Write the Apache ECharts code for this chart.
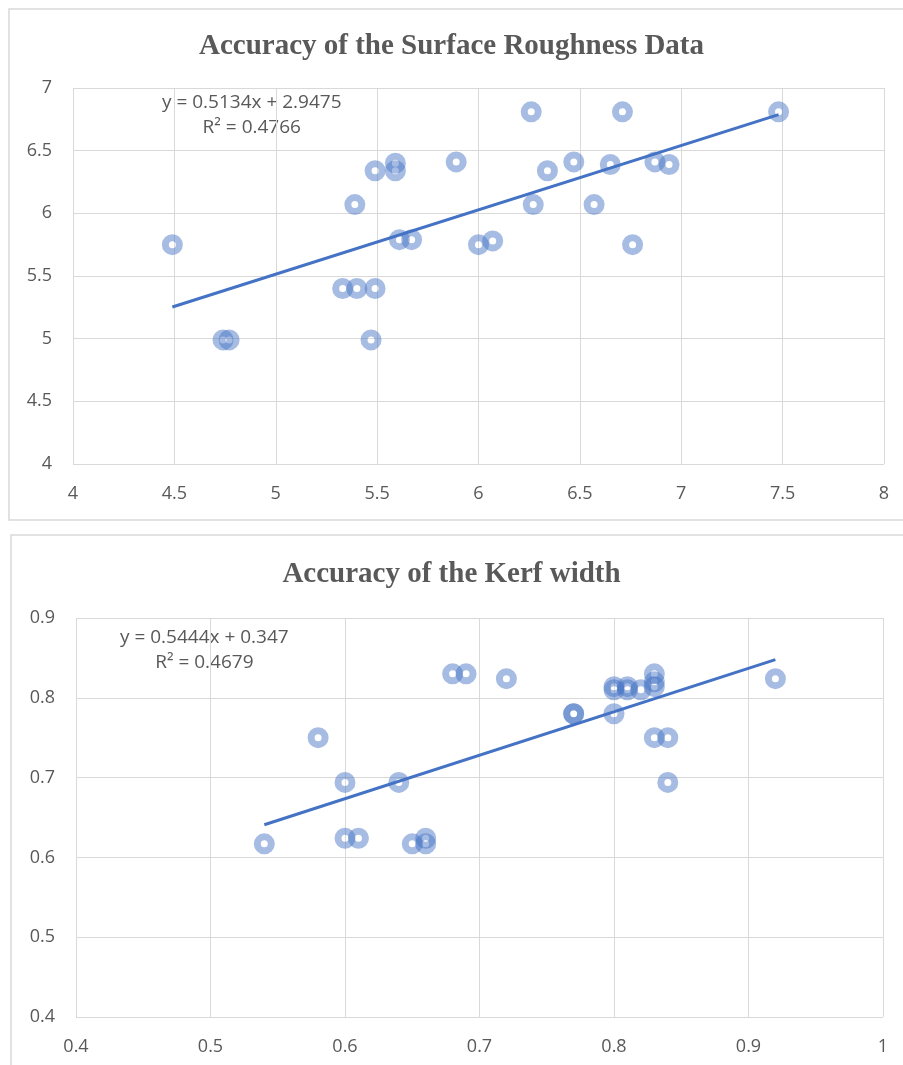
<!DOCTYPE html>
<html>
<head>
<meta charset="utf-8">
<script src="https://cdn.jsdelivr.net/npm/echarts@6/dist/echarts.min.js"></script>
<style>
html,body{margin:0;padding:0;background:#fff;}
#c{width:903px;height:1065px;}
</style>
</head>
<body>
<div id="c"></div>
<script>
// Surface roughness data (x: predicted, y: measured)
const srX = [4.49, 4.74, 4.77, 5.33, 5.40, 5.49, 5.47, 5.39, 5.49, 5.59, 5.59, 5.61, 5.67, 5.89,
             6.00, 6.07, 6.26, 6.71, 7.48, 6.34, 6.47, 6.65, 6.87, 6.94, 6.27, 6.57, 6.76];
const srY = [5.75, 4.99, 4.99, 5.40, 5.40, 5.40, 4.99, 6.07, 6.34, 6.40, 6.34, 5.79, 5.79, 6.41,
             5.75, 5.78, 6.81, 6.81, 6.81, 6.34, 6.41, 6.39, 6.41, 6.39, 6.07, 6.07, 5.75];
const srSlope = 0.5134, srIntercept = 2.9475, srR2 = '0.4766';

// Kerf width data
const kwX = [0.54, 0.58, 0.60, 0.60, 0.61, 0.64, 0.65, 0.66, 0.66, 0.68, 0.69, 0.72,
             0.77, 0.77, 0.80, 0.80, 0.80, 0.81, 0.81, 0.82, 0.83, 0.83, 0.83, 0.83, 0.84, 0.84, 0.92];
const kwY = [0.617, 0.75, 0.694, 0.624, 0.624, 0.694, 0.617, 0.624, 0.617, 0.83, 0.83, 0.824,
             0.78, 0.78, 0.78, 0.814, 0.81, 0.814, 0.81, 0.81, 0.83, 0.82, 0.814, 0.75, 0.75, 0.694, 0.824];
const kwSlope = 0.5444, kwIntercept = 0.347, kwR2 = '0.4679';

const titles = ['Accuracy of the Surface Roughness Data', 'Accuracy of the Kerf width'];

function pts(xs, ys){ return xs.map((x,i)=>[x, ys[i]]); }
function trend(xs, a, b){
  const mn = Math.min(...xs), mx = Math.max(...xs);
  return [[mn, a*mn+b],[mx, a*mx+b]];
}

const txt = '#595959';
const gridC = '#d9d9d9';
const lblFont = {color: txt, fontFamily: 'Open Sans', fontSize: 18};

function xAxis(gi, min, max, intv, dec, margin){
  return {type:'value', gridIndex:gi, min, max, interval:intv,
    axisLine:{show:false}, axisTick:{show:false},
    splitLine:{show:true, lineStyle:{color:gridC, width:1}},
    axisLabel:Object.assign({margin:margin, formatter:v=>String(+v.toFixed(dec))}, lblFont)};
}
function yAxis(gi, min, max, intv, dec){
  return {type:'value', gridIndex:gi, min, max, interval:intv,
    axisLine:{show:false}, axisTick:{show:false},
    splitLine:{show:true, lineStyle:{color:gridC, width:1}},
    axisLabel:Object.assign({margin:21, formatter:v=>String(+v.toFixed(dec))}, lblFont)};
}
const marker = {
  type:'scatter', symbol:'circle', symbolSize:14,
  itemStyle:{color:'rgba(255,255,255,0)', borderColor:'rgba(68,114,196,0.6)', borderWidth:7},
  z:3
};
const trendStyle = {type:'line', symbol:'none', lineStyle:{color:'#4472C4', width:3}, z:4, silent:true};

const chart = echarts.init(document.getElementById('c'), null, {renderer:'canvas'});
chart.setOption({
  animation:false,
  backgroundColor:'#fff',
  title:[
    {text:titles[0], left:'center', top:27, textStyle:{fontFamily:'Liberation Serif', fontWeight:'bold', fontSize:29, color:txt}},
    {text:titles[1], left:'center', top:555, textStyle:{fontFamily:'Liberation Serif', fontWeight:'bold', fontSize:29, color:txt}}
  ],
  graphic:[
    {type:'rect', shape:{x:9, y:9, width:900, height:511}, style:{fill:'none', stroke:'#d9d9d9', lineWidth:1.5}, silent:true, z:-1},
    {type:'rect', shape:{x:11, y:535, width:900, height:540}, style:{fill:'none', stroke:'#d9d9d9', lineWidth:1.5}, silent:true, z:-1},
    {type:'text', left:162, top:90, style:{text:'y = ' + srSlope + 'x + ' + srIntercept + '\nR² = ' + srR2, align:'center', fill:txt, font:'19px "Open Sans"', lineHeight:25, textAlign:'center'}},
    {type:'text', left:120, top:625, style:{text:'y = ' + kwSlope + 'x + ' + kwIntercept + '\nR² = ' + kwR2, align:'center', fill:txt, font:'19px "Open Sans"', lineHeight:25, textAlign:'center'}}
  ],
  grid:[
    {left:73, top:88, width:811, height:376},
    {left:76, top:618, width:807, height:399}
  ],
  xAxis:[xAxis(0,4,8,0.5,1,21), xAxis(1,0.4,1,0.1,1,21)],
  yAxis:[yAxis(0,4,7,0.5,1), yAxis(1,0.4,0.9,0.1,1)],
  series:[
    Object.assign({xAxisIndex:0, yAxisIndex:0, data:pts(srX, srY)}, marker),
    Object.assign({xAxisIndex:0, yAxisIndex:0, data:trend(srX, srSlope, srIntercept)}, trendStyle),
    Object.assign({xAxisIndex:1, yAxisIndex:1, data:pts(kwX, kwY)}, marker),
    Object.assign({xAxisIndex:1, yAxisIndex:1, data:trend(kwX, kwSlope, kwIntercept)}, trendStyle)
  ]
});
</script>
</body>
</html>
